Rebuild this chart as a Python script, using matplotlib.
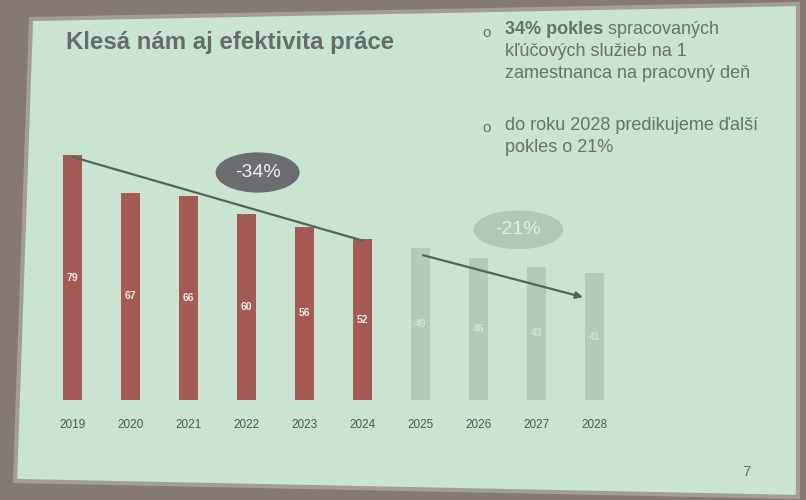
"""Slide: Klesá nám aj efektivita práce."""

import matplotlib

matplotlib.use("Agg")
from matplotlib import pyplot as plt
from matplotlib.patches import Ellipse, Polygon

years: list[str] = [str(y) for y in range(2019, 2029)]
values: list[int] = [79, 67, 66, 60, 56, 52, 49, 46, 43, 41]
n_actual: int = 6
drop_actual: str = "-34%"
drop_forecast: str = "-21%"

title: str = "Klesá nám aj efektivita práce"
bullets: list[tuple[str, str]] = [
    ("34% pokles", " spracovaných\nkľúčových služieb na 1\nzamestnanca na pracovný deň"),
    ("", "do roku 2028 predikujeme ďalší\npokles o 21%"),
]
page: str = "7"

plt.rcParams["font.family"] = ["Liberation Sans", "DejaVu Sans"]

fig = plt.figure(figsize=(8.06, 5.0), dpi=100)
fig.patch.set_facecolor("#857a72")

# slide area (photo is slightly skewed)
W, H = 806, 500
corners = [(31, 19), (798, 4), (798, 497), (15, 481)]
fig.patches.append(
    Polygon(
        [(x / W, 1 - y / H) for x, y in corners],
        closed=True,
        transform=fig.transFigure,
        facecolor="#c9e4d0",
        edgecolor="#a39d95",
        linewidth=3,
        zorder=-10,
    )
)

ax = fig.add_axes((38 / W, 0.2, 591 / W, 0.52))
ax.set_facecolor("none")
xs = list(range(len(years)))
colors = ["#a65a55"] * n_actual + ["#b1ccb9"] * (len(years) - n_actual)
bars = ax.bar(xs, values, width=0.32, color=colors, zorder=2)
for i, (bar, val) in enumerate(zip(bars, values)):
    ax.text(
        bar.get_x() + bar.get_width() / 2,
        val / 2,
        str(val),
        ha="center",
        va="center",
        fontsize=7.5,
        fontweight="bold",
        color="#f3e9e6" if i < n_actual else "#d2e4d7",
        zorder=3,
    )

ax.set_xlim(-0.6, len(years) - 0.4)
ax.set_ylim(0, 84)
ax.set_xticks(xs, years)
ax.tick_params(axis="x", length=0, pad=14, labelsize=8.5, labelcolor="#4c5a52")
ax.set_yticks([])
for spine in ax.spines.values():
    spine.set_visible(False)

# trend line over actual values
ax.plot(
    [0, n_actual - 1],
    [values[0] - 0.5, values[n_actual - 1] - 0.5],
    color="#4e6660",
    linewidth=1.6,
    zorder=4,
)
# forecast arrow
ax.annotate(
    "",
    xy=(len(years) - 1.15, values[-1] - 8),
    xytext=(n_actual, values[n_actual] - 2),
    arrowprops=dict(arrowstyle="-|>", color="#4e6660", lw=1.6, mutation_scale=10),
    zorder=4,
)

ax.add_patch(Ellipse((3.19, 73.5), 1.45, 13, facecolor="#6a6e70", zorder=5, clip_on=False))
ax.text(3.19, 73.5, drop_actual, ha="center", va="center", fontsize=14, color="#eef0ee", zorder=6)
ax.add_patch(Ellipse((7.69, 55), 1.55, 12.5, facecolor="#b0cab6", zorder=5, clip_on=False))
ax.text(7.69, 55, drop_forecast, ha="center", va="center", fontsize=14, color="#e2eee5", zorder=6)

fig.text(66 / W, 1 - 43 / H, title, fontsize=17.3, fontweight="bold", color="#666d69", va="center")

y = 30
for bold, rest in bullets:
    fig.text(482 / W, 1 - (y + 3) / H, "o", fontsize=11, color="#6a716c", va="center")
    lines = rest.lstrip().split("\n") if not bold else rest.split("\n")
    for j, line in enumerate(lines):
        if j == 0 and bold:
            t = fig.text(505 / W, 1 - y / H, bold, fontsize=13, fontweight="bold", color="#6a716c", va="center")
            fig.canvas.draw()
            bb = t.get_window_extent()
            fig.text(bb.x1 / W, 1 - y / H, line, fontsize=13, color="#6a716c", va="center")
        else:
            fig.text(505 / W, 1 - y / H, line, fontsize=13, color="#6a716c", va="center")
        y += 22
    y += 29

fig.text(742 / W, 1 - 472 / H, page, fontsize=11, color="#6a716c", va="center")

fig.savefig("out.png", dpi=100, facecolor=fig.get_facecolor())
